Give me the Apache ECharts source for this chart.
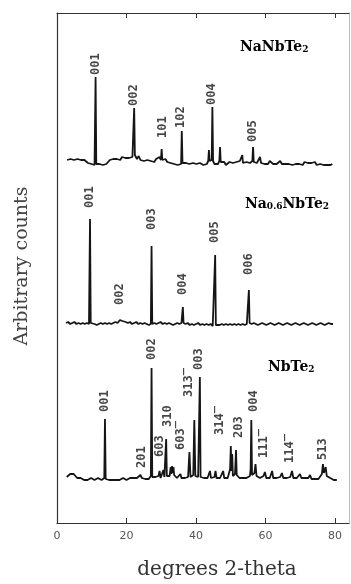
<!DOCTYPE html>
<html>
<head>
<meta charset="utf-8">
<script src="https://cdn.jsdelivr.net/npm/echarts@6.0.0/dist/echarts.min.js"></script>
<style>
  html, body { margin: 0; padding: 0; background: #fff; }
  #chart { width: 351px; height: 584px; }
</style>
</head>
<body>
<div id="chart"></div>
<script>
// 2-theta (deg) and counts above each pattern's own baseline
const naNbTe2 = [
  [2.9,3],[3.4,1],[3.9,4],[4.4,2],[4.9,3],[5.4,1],[5.9,4],[6.4,2],[6.9,3],[7.4,1],[7.9,3],[8.4,2],[8.9,0],[9.4,1],[9.9,-1],[10.4,0],[10.8,-2],[11.0,0],[11.1,86],[11.3,-1],[11.7,-2],[12.2,-1],[12.7,-3],[13.2,-2],[13.7,-3],[14.2,-1],[14.7,0],[15.2,3],[15.7,5],[16.2,4],[16.7,6],[17.2,4],[17.7,5],[18.2,3],[18.7,6],[19.2,4],[19.7,5],[20.2,3],[20.7,5],[21.2,4],[21.7,6],[22.0,5],[22.2,55],[22.4,8],[22.7,10],[23.0,4],[23.5,7],[24.0,3],[24.5,5],[25.0,2],[25.5,4],[26.0,3],[26.5,5],[27.0,2],[27.5,4],[28.0,1],[28.5,4],[29.0,2],[29.5,6],[29.9,3],[30.1,14],[30.3,3],[30.7,2],[31.2,4],[31.7,1],[32.2,3],[32.7,0],[33.2,2],[33.7,-1],[34.2,1],[34.7,-2],[35.2,0],[35.7,-1],[35.9,32],[36.1,0],[36.6,-2],[37.1,0],[37.6,-2],[38.1,-1],[38.6,-2],[39.1,0],[39.6,-2],[40.1,-1],[40.6,-2],[41.1,0],[41.6,-1],[42.1,-2],[42.6,0],[43.1,-1],[43.5,2],[43.7,13],[43.9,2],[44.3,4],[44.5,3],[44.7,56],[44.9,2],[45.3,-1],[45.8,1],[46.3,-1],[46.7,2],[46.9,16],[47.1,1],[47.6,-1],[48.1,1],[48.6,-2],[49.1,0],[49.6,1],[50.1,-1],[50.6,0],[51.1,-2],[51.6,1],[52.1,-1],[52.6,2],[53.1,0],[53.3,8],[53.5,0],[54.0,-1],[54.5,1],[55.0,-1],[55.5,0],[56.0,1],[56.2,2],[56.4,16],[56.6,1],[57.0,3],[57.5,0],[58.0,2],[58.4,6],[58.7,0],[59.2,1],[59.7,-1],[60.2,1],[60.7,-1],[61.2,2],[61.7,0],[62.2,-1],[62.7,1],[63.2,-1],[63.7,0],[64.2,2],[64.7,-1],[65.2,0],[65.7,-1],[66.2,1],[66.7,-1],[67.2,0],[67.7,-2],[68.2,0],[68.7,-1],[69.2,1],[69.7,-1],[70.2,0],[70.7,-2],[71.2,1],[71.7,-1],[72.2,0],[72.7,-2],[73.2,0],[73.7,-1],[74.2,1],[74.7,-2],[75.2,0],[75.7,-1],[76.2,1],[76.7,-2],[77.2,0],[77.7,-2],[78.2,-1],[78.7,-2],[79.2,-1]
];
const na06NbTe2 = [
  [2.6,1],[3.2,2],[3.8,0],[4.4,1],[5.0,2],[5.6,0],[6.2,1],[6.8,0],[7.4,1],[8.0,0],[8.6,1],[9.2,0],[9.4,2],[9.5,105],[9.7,1],[10.2,-1],[10.8,0],[11.4,-1],[12.0,0],[12.6,1],[13.2,0],[13.8,1],[14.4,0],[15.0,1],[15.6,0],[16.2,1],[16.8,2],[17.4,1],[17.8,3],[18.1,4],[18.4,2],[18.8,3],[19.3,1],[19.8,2],[20.4,1],[21.0,2],[21.6,0],[22.2,1],[22.8,2],[23.4,0],[24.0,1],[24.6,0],[25.2,1],[25.8,0],[26.4,-1],[27.0,0],[27.2,78],[27.4,0],[28.0,1],[28.6,0],[29.2,1],[29.8,2],[30.4,0],[31.0,1],[31.6,0],[32.2,1],[32.8,0],[33.4,-1],[34.0,0],[34.6,1],[35.2,0],[35.8,1],[36.0,2],[36.2,17],[36.4,1],[37.0,0],[37.6,1],[38.2,-1],[38.8,0],[39.4,-1],[40.0,0],[40.6,1],[41.2,-1],[41.8,0],[42.4,-1],[43.0,0],[43.6,-1],[44.2,0],[44.8,-2],[45.3,-1],[45.5,69],[45.7,-1],[46.2,-2],[46.8,-1],[47.4,0],[48.0,-1],[48.6,0],[49.2,-1],[49.8,0],[50.4,-1],[51.0,0],[51.6,-1],[52.2,0],[52.8,-1],[53.4,0],[54.0,-1],[54.6,0],[55.0,1],[55.2,34],[55.4,1],[56.0,0],[56.6,1],[57.2,0],[57.8,-1],[58.4,0],[59.0,1],[59.6,0],[60.2,-1],[60.8,0],[61.4,1],[62.0,0],[62.6,-1],[63.2,0],[63.8,1],[64.4,0],[65.0,-1],[65.6,0],[66.2,1],[66.8,0],[67.4,-1],[68.0,0],[68.6,1],[69.2,0],[69.8,-1],[70.4,0],[71.0,1],[71.6,0],[72.2,-1],[72.8,0],[73.4,1],[74.0,0],[74.6,-1],[75.2,0],[75.8,1],[76.4,0],[77.0,-1],[77.6,0],[78.2,1],[78.8,0],[79.4,0]
];
const nbTe2 = [
  [2.8,2],[3.3,4],[3.8,5],[4.3,4],[4.8,5],[5.3,3],[5.8,1],[6.3,0],[6.8,1],[7.3,0],[7.8,-1],[8.3,0],[8.8,-1],[9.3,0],[9.8,1],[10.3,0],[10.8,-1],[11.3,0],[11.8,1],[12.3,0],[12.8,-1],[13.3,0],[13.6,1],[13.8,60],[14.0,0],[14.5,-2],[15.0,-1],[15.5,-2],[16.0,-1],[16.5,0],[17.0,-1],[17.5,0],[18.0,-1],[18.5,0],[19.0,1],[19.5,0],[20.0,-1],[20.5,0],[21.0,1],[21.5,0],[22.0,1],[22.5,0],[23.0,1],[23.5,2],[24.0,4],[24.4,1],[24.9,2],[25.4,0],[25.9,1],[26.4,0],[26.8,1],[27.0,3],[27.2,111],[27.4,2],[27.8,0],[28.3,2],[28.8,1],[29.2,3],[29.5,8],[29.8,1],[30.3,2],[30.6,9],[30.9,2],[31.2,4],[31.4,40],[31.6,3],[32.0,1],[32.4,3],[32.7,12],[32.9,5],[33.1,13],[33.3,6],[33.5,12],[33.7,4],[34.0,2],[34.5,1],[35.0,3],[35.5,5],[35.8,1],[36.3,2],[36.8,1],[37.3,3],[37.7,2],[38.1,27],[38.4,2],[38.8,3],[39.2,4],[39.5,59],[39.8,3],[40.2,1],[40.6,2],[40.9,3],[41.1,102],[41.3,2],[41.8,0],[42.3,1],[42.8,0],[43.3,1],[43.7,2],[44.0,8],[44.3,1],[44.8,0],[45.3,2],[45.6,8],[45.9,1],[46.4,0],[46.9,1],[47.4,2],[47.8,8],[48.1,1],[48.6,0],[49.1,1],[49.5,3],[49.8,10],[50.0,33],[50.2,8],[50.4,25],[50.6,3],[50.9,2],[51.2,5],[51.5,29],[51.7,4],[52.0,2],[52.5,1],[53.0,2],[53.5,1],[54.0,2],[54.5,1],[55.0,2],[55.5,3],[55.7,10],[55.9,59],[56.1,4],[56.5,3],[56.8,6],[57.1,15],[57.4,3],[57.9,2],[58.4,1],[58.9,2],[59.4,3],[59.8,7],[60.2,1],[60.7,0],[61.2,1],[61.6,3],[61.9,8],[62.2,1],[62.7,0],[63.2,1],[63.7,0],[64.2,2],[64.7,6],[65.1,1],[65.6,0],[66.1,1],[66.6,0],[67.1,2],[67.6,8],[68.0,1],[68.5,0],[69.0,1],[69.5,2],[69.9,5],[70.3,1],[70.8,0],[71.3,1],[71.8,0],[72.3,1],[72.8,4],[73.2,0],[73.7,1],[74.2,0],[74.7,1],[75.2,0],[75.7,2],[76.2,5],[76.5,15],[76.8,6],[77.1,8],[77.3,12],[77.6,3],[78.1,2],[78.6,1],[79.1,0],[79.6,-1],[80.1,0],[80.5,-1]
];

// vertical stacking of the three patterns
const offsets = [360, 199, 44];

// reflection labels: text, 2-theta, height above baseline where label starts
const naNbTe2Hkl = ['001', '002', '101', '102', '004', '005'];
const naNbTe2HklPos = [11.1, 22.2, 30.5, 35.7, 44.6, 56.4];
const naNbTe2HklLevel = [88, 57, 25, 35, 58, 21];

const na06NbTe2Hkl = ['001', '002', '003', '004', '005', '006'];
const na06NbTe2HklPos = [9.5, 18.1, 27.2, 36.2, 45.5, 55.2];
const na06NbTe2HklLevel = [116, 19, 94, 29, 81, 49];

const nbTe2Hkl = ['001', '201', '002', '603', '310', '603\u0305', '313\u0305', '003', '314\u0305', '203', '004', '111\u0305', '114\u0305', '513'];
const nbTe2HklPos = [13.8, 24.4, 27.2, 29.6, 32.0, 35.7, 37.8, 40.9, 46.9, 52.2, 56.7, 59.4, 67.0, 76.6];
const nbTe2HklLevel = [67, 11, 119, 22, 52, 29, 82, 109, 44, 41, 67, 21, 16, 19];

const xTickLabels = [0, 20, 40, 60, 80];
const xTicks = [20, 40, 60, 80];

const patterns = [naNbTe2, na06NbTe2, nbTe2];
const hkl = [
  [naNbTe2Hkl, naNbTe2HklPos, naNbTe2HklLevel],
  [na06NbTe2Hkl, na06NbTe2HklPos, na06NbTe2HklLevel],
  [nbTe2Hkl, nbTe2HklPos, nbTe2HklLevel]
];

let chart = echarts.init(document.getElementById('chart'));

let series = [];
patterns.forEach((p, i) => {
  series.push({
    type: 'line',
    data: p.map(d => [d[0], d[1] + offsets[i]]),
    showSymbol: false,
    symbol: 'none',
    smooth: false,
    lineStyle: {color: '#151515', width: 1.8},
    silent: true
  });
  let [names, pos, lvl] = hkl[i];
  // 透明的点，只用来挂指数标签
  series.push({
    type: 'scatter',
    symbolSize: 1,
    itemStyle: {color: 'rgba(0,0,0,0)'},
    data: names.map((n, k) => [pos[k], lvl[k] + offsets[i], n]),
    label: {
      show: true,
      position: 'inside',
      rotate: 90,
      align: 'left',
      verticalAlign: 'middle',
      formatter: prm => prm.data[2],
      fontFamily: 'DejaVu Sans Mono',
      fontWeight: 'bold',
      fontSize: 12,
      color: '#161616'
    },
    silent: true
  });
});

const rich = {
  a: {fontFamily: 'DejaVu Serif', fontWeight: 'bold', fontSize: 14, lineHeight: 14, verticalAlign: 'top', color: '#1a1a1a'},
  s: {fontFamily: 'DejaVu Serif', fontWeight: 'bold', fontSize: 9, lineHeight: 9, padding: [8, 0, 0, 0], verticalAlign: 'bottom', color: '#1a1a1a'}
};

let option = {
  animation: false,
  grid: {left: 57, right: 2, top: 13, bottom: 61},
  xAxis: [{
    type: 'value', min: 0, max: 84, position: 'bottom',
    axisLine: {onZero: false, lineStyle: {color: '#333', width: 1.2}},
    axisTick: {inside: true, length: 5, customValues: xTicks, lineStyle: {color: '#333'}},
    axisLabel: {customValues: xTickLabels, margin: 8, fontFamily: 'DejaVu Sans', fontSize: 11, color: '#555'},
    splitLine: {show: false}
  }, {
    type: 'value', min: 0, max: 84, position: 'top',
    axisLine: {onZero: false, lineStyle: {color: '#333', width: 1.2}},
    axisTick: {inside: true, length: 5, customValues: xTicks, lineStyle: {color: '#333'}},
    axisLabel: {show: false},
    splitLine: {show: false}
  }],
  yAxis: [{
    type: 'value', min: 0, max: 510, position: 'left',
    axisLine: {show: true, onZero: false, lineStyle: {color: '#333', width: 1.2}},
    axisTick: {show: false}, axisLabel: {show: false}, splitLine: {show: false}
  }, {
    type: 'value', min: 0, max: 510, position: 'right',
    axisLine: {show: true, onZero: false, lineStyle: {color: '#bbb', width: 1}},
    axisTick: {show: false}, axisLabel: {show: false}, splitLine: {show: false}
  }],
  graphic: [
    {type: 'text', x: 217, y: 570, style: {text: 'degrees 2-theta', font: '20px "DejaVu Serif"', fill: '#333', align: 'center', verticalAlign: 'middle'}},
    {type: 'text', x: 22, y: 266, rotation: Math.PI / 2, style: {text: 'Arbitrary counts', font: '19px "DejaVu Serif"', fill: '#444', align: 'center', verticalAlign: 'middle'}},
    {type: 'text', x: 240, y: 40, style: {text: '{a|NaNbTe}{s|2}', rich: rich}},
    {type: 'text', x: 245, y: 197, style: {text: '{a|Na}{s|0.6}{a|NbTe}{s|2}', rich: rich}},
    {type: 'text', x: 268, y: 360, style: {text: '{a|NbTe}{s|2}', rich: rich}}
  ],
  series: series
};

chart.setOption(option);
</script>
</body>
</html>
